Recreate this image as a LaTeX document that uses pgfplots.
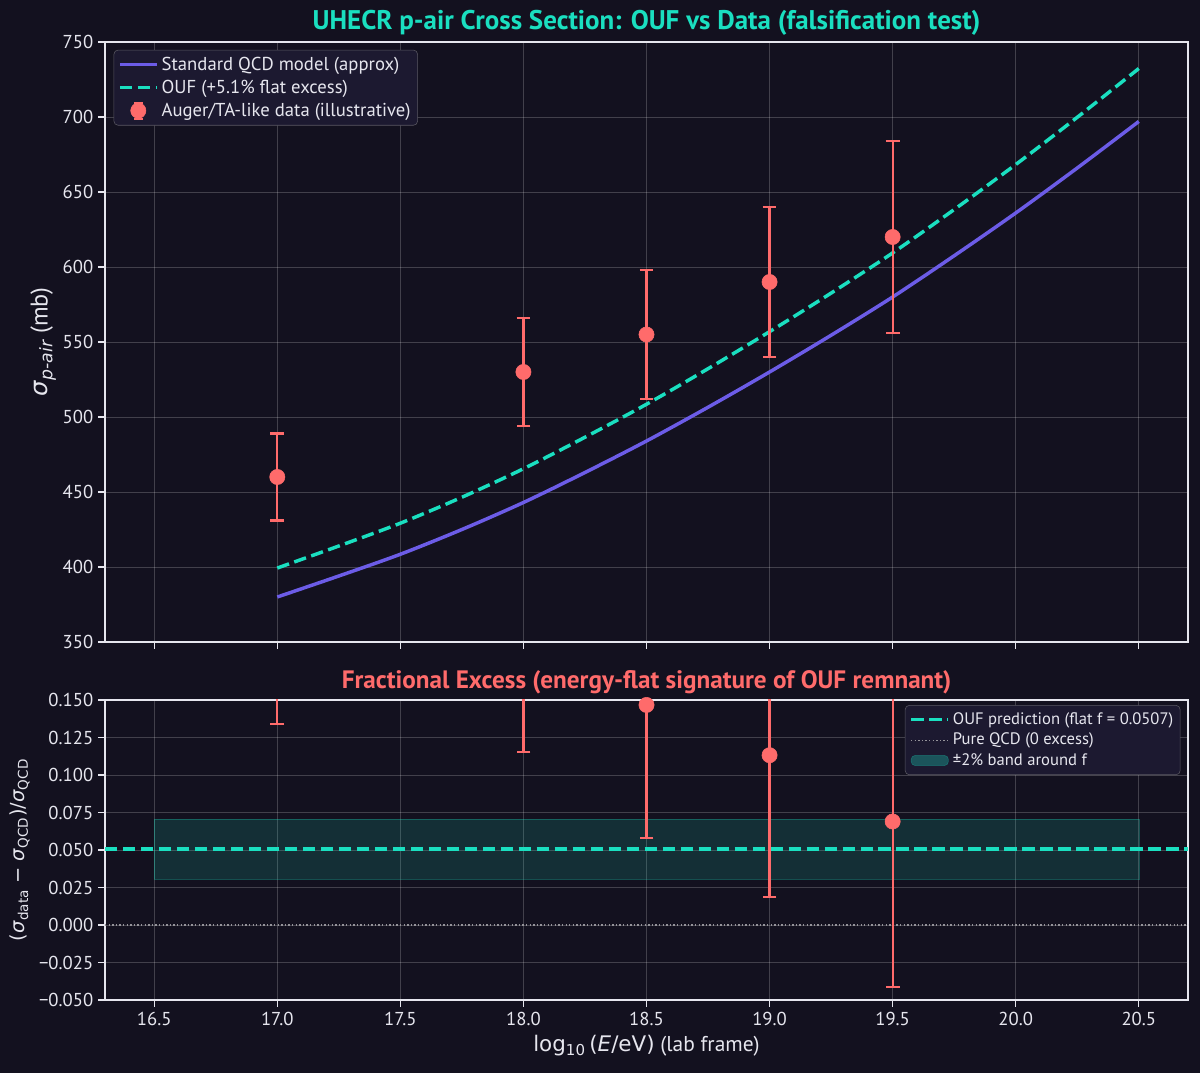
\documentclass[border=0pt]{standalone}
\usepackage{pgfplots}
\pgfplotsset{compat=1.18}
\usepackage{fontspec}
\setmainfont{PT Sans}
\newfontfamily\dejavu{DejaVu Sans}
\definecolor{bgcol}{HTML}{13111F}
\definecolor{qcdcol}{HTML}{6C5CE7}
\definecolor{tealcol}{HTML}{1ADFC0}
\definecolor{datacol}{HTML}{FF6B6B}
\definecolor{fgcol}{HTML}{E6E6EE}
\definecolor{legbg}{HTML}{1C1930}
\pgfplotsset{
  mystyle/.style={
    scale only axis, width=10.83in,
    xmin=16.3, xmax=20.7,
    axis line style={fgcol, line width=0.9pt},
    tick style={fgcol, line width=0.9pt},
    major tick length=5pt,
    tick align=outside,
    xtick pos=bottom, ytick pos=left,
    xtick={16.5,17,17.5,18,18.5,19,19.5,20,20.5},
    grid=major,
    major grid style={white, opacity=0.2, line width=0.6pt},
    ticklabel style={text=fgcol, font=\fontsize{13.5}{15}\selectfont},
    /pgf/number format/assume math mode=true,
    label style={text=fgcol, font=\fontsize{15.5}{18}\selectfont},
    legend cell align=left,
    legend image code/.code={\draw[#1] (0cm,0cm) -- (0.95cm,0cm);},
    clip mode=individual,
  }
}
\begin{document}
\begin{tikzpicture}
\useasboundingbox (0,0) rectangle (12in,10.73in);
\fill[bgcol] (0,0) rectangle (12in,10.73in);
\begin{axis}[mystyle,
  at={(1.05in,4.31in)}, anchor=south west,
  height=6in,
  ymin=350, ymax=750,
  ytick={350,400,450,500,550,600,650,700,750},
  xticklabels={},
  ylabel={{\dejavu\textit{σ}\raisebox{-0.35ex}{\fontsize{12.5}{13}\selectfont\textit{p-air}}} (mb)},
  ylabel style={yshift=-2pt, font=\fontsize{17.5}{19}\selectfont},
  title={UHECR p-air Cross Section: OUF vs Data (falsification test)},
  title style={text=tealcol, yshift=-5pt, font=\fontsize{19.5}{22}\selectfont\bfseries},
  legend style={at={(0.008,0.987)}, anchor=north west, fill=legbg, draw=white!30!bgcol, rounded corners=3pt, text=fgcol, font=\fontsize{13.5}{15}\selectfont, inner sep=3pt, row sep=1.5pt},
]
\addplot[qcdcol, line width=2.5pt, smooth] coordinates {
(17,380)(17.25,394)(17.5,408.5)(17.75,425)(18,443)(18.25,463)(18.5,484)(18.75,506.5)(19,530)(19.25,554.5)(19.5,580)(19.75,607.5)(20,636)(20.25,666)(20.5,697)};
\addlegendentry{Standard QCD model (approx)}
\addplot[tealcol, line width=2.5pt, smooth, dash pattern=on 9pt off 4pt] coordinates {
(17,399.3)(17.25,414.0)(17.5,429.2)(17.75,446.5)(18,465.5)(18.25,486.5)(18.5,508.5)(18.75,532.2)(19,556.9)(19.25,582.6)(19.5,609.4)(19.75,638.3)(20,668.3)(20.25,699.8)(20.5,732.3)};
\addlegendentry{OUF (+5.1\% flat excess)}
\addplot[only marks, mark=*, mark size=5.5pt, mark options={fill=datacol, draw=datacol}, datacol,
  legend image code/.code={
    \draw[datacol, line width=1.5pt] (0.47cm,-0.2cm) -- (0.47cm,0.2cm);
    \draw[datacol, line width=1.5pt] (0.36cm,-0.2cm) -- (0.58cm,-0.2cm);
    \draw[datacol, line width=1.5pt] (0.36cm,0.2cm) -- (0.58cm,0.2cm);
    \fill[datacol] (0.47cm,0cm) circle (5.5pt);
  },
  error bars/.cd, y dir=both, y explicit,
  error bar style={line width=1.6pt, datacol},
  error mark options={rotate=90, mark size=5pt, line width=1.6pt, datacol},
  ] table[x=x, y=y, y error=e] {
x y e
17 460 29
18 530 36
18.5 555 43
19 590 50
19.5 620 64
};
\addlegendentry{Auger/TA-like data (illustrative)}
\end{axis}
\begin{axis}[mystyle,
  at={(1.05in,0.73in)}, anchor=south west,
  height=3in,
  ymin=-0.05, ymax=0.15,
  ytick={-0.05,-0.025,0,0.025,0.05,0.075,0.1,0.125,0.15},
  yticklabels={−0.050,−0.025,0.000,0.025,0.050,0.075,0.100,0.125,0.150},
  xticklabels={16.5,17.0,17.5,18.0,18.5,19.0,19.5,20.0,20.5},
  xlabel={{\dejavu log\textsubscript{10}\,(\textit{E}/eV)} (lab frame)},
  ylabel={\dejavu (\textit{σ}\textsubscript{data} − \textit{σ}\textsubscript{QCD})/\textit{σ}\textsubscript{QCD}},
  ylabel style={font=\fontsize{14}{16}\selectfont},
  title={Fractional Excess (energy-flat signature of OUF remnant)},
  title style={text=datacol, yshift=-5pt, font=\fontsize{18.2}{21}\selectfont\bfseries},
  legend style={at={(0.993,0.983)}, anchor=north east, fill=legbg, draw=white!30!bgcol, rounded corners=3pt, text=fgcol, font=\fontsize{12}{14}\selectfont, inner sep=3pt, row sep=1pt},
]
\addplot[tealcol, line width=2.5pt, dash pattern=on 9pt off 4pt] coordinates {(16.3,0.0507)(20.7,0.0507)};
\addlegendentry{OUF prediction (flat f = 0.0507)}
\addplot[white!55!bgcol, line width=0.8pt, dash pattern=on 1pt off 1.6pt] coordinates {(16.3,0)(20.7,0)};
\addlegendentry{Pure QCD (0 excess)}
\addplot[fill=tealcol, fill opacity=0.15, draw=tealcol, draw opacity=0.3,
  legend image code/.code={\fill[tealcol, fill opacity=0.3] (0cm,-0.12cm) rectangle (0.95cm,0.14cm);}] coordinates {(16.5,0.0307)(20.5,0.0307)(20.5,0.0707)(16.5,0.0707)} -- cycle;
\addlegendentry{±2\% band around f}
\addplot[forget plot, only marks, mark=*, mark size=5.5pt, mark options={fill=datacol, draw=datacol}, datacol,
  error bars/.cd, y dir=both, y explicit,
  error bar style={line width=1.6pt, datacol},
  error mark options={rotate=90, mark size=5pt, line width=1.6pt, datacol},
  ] table[x=x, y=y, y error=e] {
x y e
17 0.2105 0.0763
18 0.1964 0.0813
18.5 0.1467 0.0888
19 0.1132 0.0943
19.5 0.0690 0.1103
};
\end{axis}
\end{tikzpicture}
\end{document}
